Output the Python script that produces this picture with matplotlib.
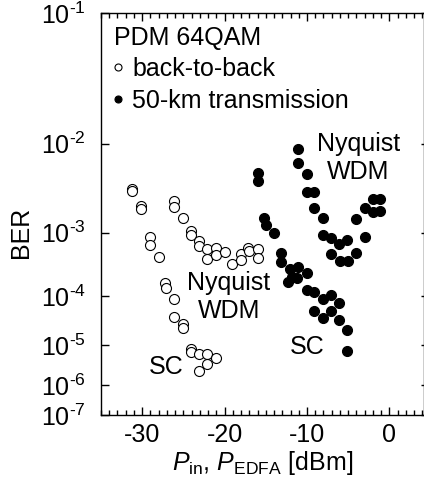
import numpy as np
import matplotlib.pyplot as plt
from matplotlib.ticker import MultipleLocator

plt.rcParams['font.family'] = ['Liberation Sans', 'DejaVu Sans']
plt.rcParams['mathtext.fontset'] = 'custom'
plt.rcParams['mathtext.rm'] = 'Liberation Sans'
plt.rcParams['mathtext.it'] = 'Liberation Sans:italic'
plt.rcParams['axes.unicode_minus'] = False
plt.rcParams['font.size'] = 18

# --- data: power [dBm] and BER ---
# back-to-back, Nyquist WDM
b2b_nyq_p = [-31.2, -31.2, -30.1, -30.1, -29.1, -29.1, -28.0, -26.1, -26.1, -25.1,
             -24.1, -24.1, -23.1, -23.1, -22.1, -22.1, -21.0, -21.0, -20.0, -19.1,
             -18.0, -18.0, -17.2, -17.0, -16.0, -16.0]
b2b_nyq_ber = [3.5e-3, 3.3e-3, 2.2e-3, 2.0e-3, 8.8e-4, 6.6e-4, 4.4e-4, 2.5e-3, 2.15e-3, 1.55e-3,
               1.05e-3, 9.3e-4, 7.6e-4, 6.5e-4, 5.8e-4, 4.2e-4, 6.0e-4, 4.8e-4, 5.3e-4, 3.5e-4,
               4.9e-4, 4.0e-4, 6.0e-4, 5.5e-4, 5.8e-4, 4.3e-4]
# back-to-back, SC
b2b_sc_p = [-27.2, -27.1, -26.1, -26.2, -25.1, -25.1, -24.1, -24.1, -23.1, -22.1, -21.0, -22.1, -23.1]
b2b_sc_ber = [1.7e-4, 1.4e-4, 8.6e-5, 3.9e-5, 2.8e-5, 2.3e-5, 8.0e-6, 6.8e-6, 6.0e-6, 6.0e-6,
              4.9e-6, 3.6e-6, 2.4e-6]
# 50-km transmission, Nyquist WDM
tx_nyq_p = [-11.1, -11.1, -10.0, -10.0, -9.1, -9.1, -8.1, -8.1, -7.1, -6.1, -5.1, -7.1,
            -6.0, -5.0, -4.0, -4.0, -3.0, -3.0, -2.0, -1.1, -2.0, -1.1]
tx_nyq_ber = [9.0e-3, 6.6e-3, 5.0e-3, 3.2e-3, 3.2e-3, 2.06e-3, 1.55e-3, 9.4e-4, 8.5e-4, 6.9e-4,
              8.0e-4, 4.9e-4, 3.8e-4, 3.9e-4, 5.2e-4, 1.5e-3, 8.8e-4, 2.1e-3, 2.7e-3, 2.7e-3,
              1.87e-3, 1.91e-3]
# 50-km transmission, SC
tx_sc_p = [-16.0, -16.0, -15.2, -15.0, -14.0, -13.1, -13.1, -12.1, -11.1, -10.0, -11.8, -12.3,
           -11.2, -10.0, -9.1, -8.1, -7.1, -6.1, -9.1, -8.1, -7.1, -6.1, -5.1, -5.1]
tx_sc_ber = [5.2e-3, 4.2e-3, 1.55e-3, 1.26e-3, 1.0e-3, 5.2e-4, 3.7e-4, 2.85e-4, 3.1e-4, 2.45e-4,
             2.16e-4, 1.77e-4, 2.03e-4, 1.27e-4, 1.15e-4, 8.7e-5, 1.04e-4, 7.3e-5, 5.1e-5, 3.7e-5,
             5.1e-5, 3.4e-5, 2.15e-5, 7.2e-6]

y_ticks = [0.0787, 1e-2, 1e-3, 1e-4, 1e-5, 1e-6, 1.32e-7]
y_tick_labels = [r'10$^{\text{-%d}}$' % k for k in range(1, 8)]


# BER axis: -log10(-log10(BER)), the usual "Q-like" BER scale
def ber_fwd(y):
    with np.errstate(all='ignore'):
        return -np.log10(-np.log10(y))


def ber_inv(t):
    with np.errstate(all='ignore'):
        return 10.0 ** (-(10.0 ** (-t)))


fig = plt.figure(figsize=(4.24, 4.83), dpi=100)
ax = fig.add_axes([101 / 424, 1 - 415 / 483, 323 / 424, 402 / 483])
ax.set_yscale('function', functions=(ber_fwd, ber_inv))

ms = 7.2
open_style = dict(ls='none', marker='o', ms=ms, mfc='white', mec='black', mew=0.8)
fill_style = dict(ls='none', marker='o', ms=ms, mfc='black', mec='black', mew=0.8)

h1, = ax.plot(b2b_nyq_p, b2b_nyq_ber, label='back-to-back', **open_style)
ax.plot(b2b_sc_p, b2b_sc_ber, **open_style)
h2, = ax.plot(tx_nyq_p, tx_nyq_ber, label='50-km transmission', **fill_style)
ax.plot(tx_sc_p, tx_sc_ber, **fill_style)

ax.text(-19.5, 9.5e-5, 'Nyquist\nWDM', ha='center', va='center')
ax.text(-27.1, 3.0e-6, 'SC', ha='center', va='center')
ax.text(-3.8, 7.3e-3, 'Nyquist\nWDM', ha='center', va='center')
ax.text(-10.0, 8.9e-6, 'SC', ha='center', va='center')

leg = ax.legend(handles=[h1, h2], title='PDM 64QAM', loc='upper left', frameon=False,
                alignment='left', markerscale=0.7, handlelength=0.32, handletextpad=0.44,
                borderpad=0, borderaxespad=0.5, labelspacing=0.3, fontsize=18,
                title_fontsize=18)

ax.set_xlim(-35, 4.2)
ax.set_ylim(y_ticks[-1], y_ticks[0])
ax.set_yticks(y_ticks, labels=y_tick_labels)
ax.yaxis.set_minor_locator(plt.NullLocator())
ax.xaxis.set_major_locator(MultipleLocator(10))
ax.xaxis.set_minor_locator(MultipleLocator(1))

ax.tick_params(axis='both', which='both', direction='in', top=True, right=True, width=1)
ax.tick_params(axis='x', which='major', length=6, pad=6)
ax.tick_params(axis='x', which='minor', length=3.5)
ax.tick_params(axis='y', which='major', length=6, pad=11)
for t in ax.yaxis.get_major_ticks():
    t.tick2line.set_markersize(2.5)

for s in ax.spines.values():
    s.set_linewidth(1.0)

ax.set_xlabel(r'$P_{\mathrm{in}}$, $P_{\mathrm{EDFA}}$ [dBm]', labelpad=1)
ax.set_ylabel('BER')
ax.yaxis.set_label_coords(-0.21, 0.455)

fig.savefig('out.png', dpi=100)
